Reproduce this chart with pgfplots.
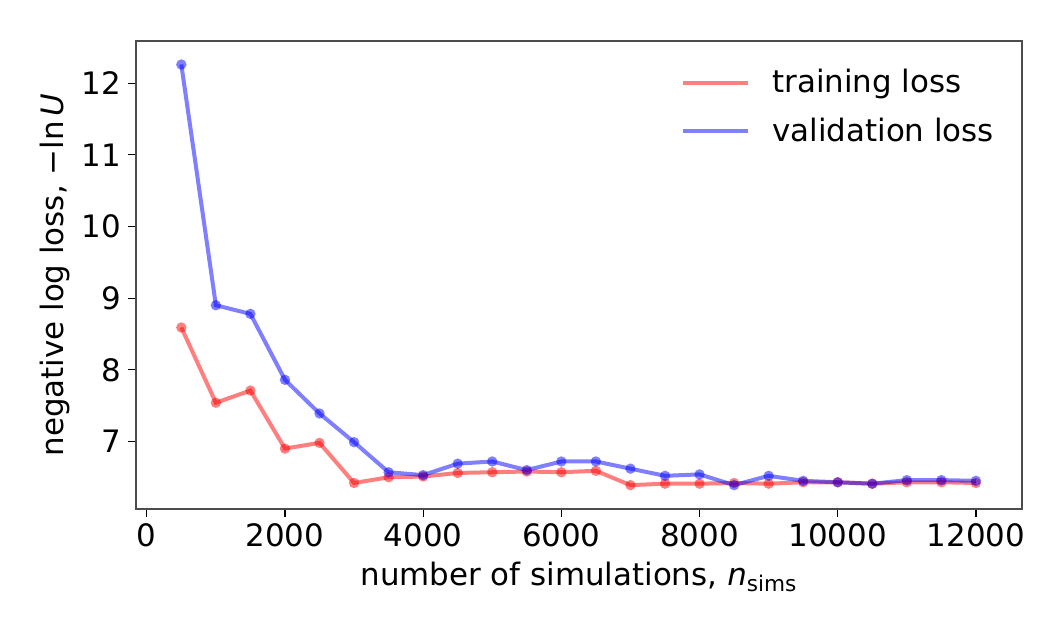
\documentclass[border=0pt]{standalone}
\usepackage{pgfplots}
\pgfplotsset{compat=1.18}
\usepackage{fontspec}
\setmainfont{DejaVu Sans}

\pgfplotstableread{
n      train   valid
500    8.59    12.26
1000   7.54    8.90
1500   7.71    8.78
2000   6.90    7.86
2500   6.98    7.39
3000   6.42    6.99
3500   6.50    6.57
4000   6.51    6.53
4500   6.56    6.69
5000   6.57    6.72
5500   6.58    6.60
6000   6.57    6.72
6500   6.59    6.72
7000   6.39    6.62
7500   6.41    6.52
8000   6.41    6.54
8500   6.42    6.39
9000   6.41    6.52
9500   6.43    6.45
10000  6.43    6.43
10500  6.41    6.41
11000  6.43    6.46
11500  6.43    6.46
12000  6.42    6.45
}\losses

\definecolor{trainred}{RGB}{255,0,0}
\definecolor{validblue}{RGB}{0,0,255}

\begin{document}
\begin{tikzpicture}
\path[use as bounding box] (-68bp,-64bp) rectangle (463.5bp,254.5bp);
\begin{axis}[
  scale only axis,
  width=443bp, height=234bp,
  xmin=-156, xmax=12667,
  ymin=6.057, ymax=12.588,
  xtick={0,2000,...,12000},
  ytick={7,8,...,12},
  scaled ticks=false,
  tick align=outside,
  tick pos=left,
  major tick length=4bp,
  axis line style={black!70, line width=0.6bp},
  every tick/.style={black, line width=0.6bp},
  /pgf/number format/1000 sep={},
  /pgf/number format/assume math mode=true,
  tick label style={font=\fontsize{15.5}{18}\selectfont},
  label style={font=\fontsize{15.5}{18}\selectfont},
  xlabel={number of simulations, \textit{n}\textsubscript{sims}},
  ylabel={negative log loss, −ln\,\textit{U}},
  x label style={at={(axis description cs:0.5,-0.145)}, anchor=center},
  y label style={at={(axis description cs:-0.0914,0.5)}, anchor=center, rotate=0},
  legend style={draw=none, fill=none, at={(0.98,0.957)}, anchor=north east,
    font=\fontsize{15.5}{18}\selectfont, row sep=7bp,
    /tikz/every odd column/.append style={column sep=9bp}},
  legend image code/.code={\draw[#1, mark=none] (0bp,0bp) -- (32.5bp,0bp);},
  legend cell align=left,
]
\addplot[color=trainred, line width=2bp, opacity=0.5,
  mark=*, mark size=2.6bp, mark options={solid, draw opacity=0, fill opacity=0.5}]
  table[x=n, y=train] {\losses};
\addlegendentry{training loss}
\addplot[color=validblue, line width=2bp, opacity=0.5,
  mark=*, mark size=2.6bp, mark options={solid, draw opacity=0, fill opacity=0.5}]
  table[x=n, y=valid] {\losses};
\addlegendentry{validation loss}
\end{axis}
\end{tikzpicture}
\end{document}
